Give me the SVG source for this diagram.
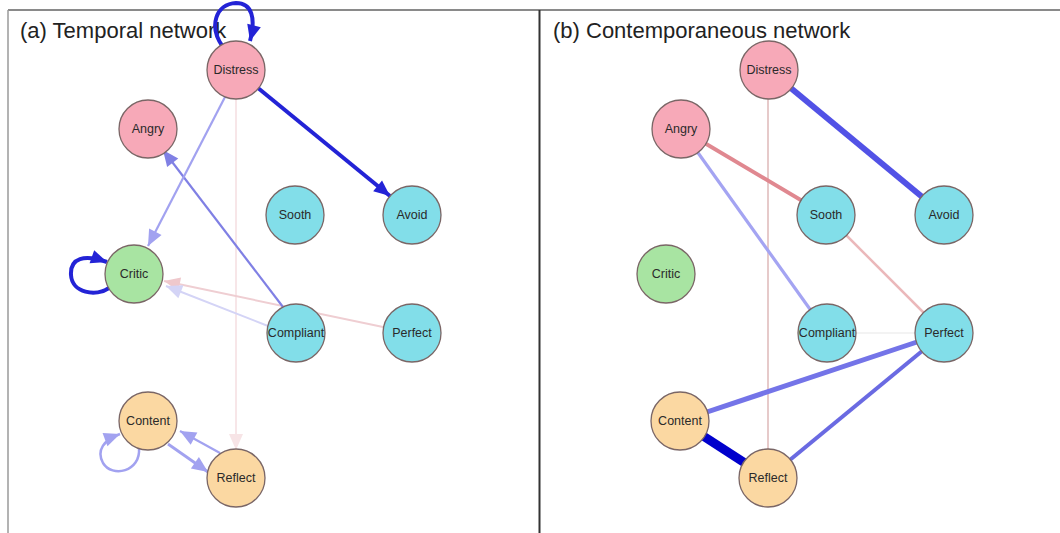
<svg xmlns="http://www.w3.org/2000/svg" width="1060" height="533" viewBox="0 0 1060 533">
<style>
.node circle{stroke:#7a6666;stroke-width:1.3}
.node text{font-family:"Liberation Sans",Arial,sans-serif;font-size:12.5px;fill:#2a2a2a;text-anchor:middle;dominant-baseline:central}
.pink{fill:#F7A9B8}.cyan{fill:#82DEE9}.green{fill:#A8E4A2}.orange{fill:#FBD8A2}
.title{font-family:"Liberation Sans",Arial,sans-serif;font-size:22px;fill:#222}
.e{fill:none;stroke-linecap:butt}
</style>
<defs>
<marker id="aDark" markerUnits="userSpaceOnUse" markerWidth="20" markerHeight="20" viewBox="0 0 20 20" refX="18" refY="10" orient="auto"><path d="M2,3 L18,10 L2,17 Z" fill="#2323D6"/></marker>
<marker id="aLight" markerUnits="userSpaceOnUse" markerWidth="20" markerHeight="20" viewBox="0 0 20 20" refX="18" refY="10" orient="auto"><path d="M2,3 L18,10 L2,17 Z" fill="#A2A2F0"/></marker>
<marker id="aMid" markerUnits="userSpaceOnUse" markerWidth="20" markerHeight="20" viewBox="0 0 20 20" refX="18" refY="10" orient="auto"><path d="M2,3 L18,10 L2,17 Z" fill="#8080E4"/></marker>
<marker id="aPink" markerUnits="userSpaceOnUse" markerWidth="20" markerHeight="20" viewBox="0 0 20 20" refX="18" refY="10" orient="auto"><path d="M2,3 L18,10 L2,17 Z" fill="#EFC8CC"/></marker>
<marker id="aFaintBlue" markerUnits="userSpaceOnUse" markerWidth="20" markerHeight="20" viewBox="0 0 20 20" refX="18" refY="10" orient="auto"><path d="M2,3 L18,10 L2,17 Z" fill="#D4D4F6"/></marker>
<marker id="aFaintPink" markerUnits="userSpaceOnUse" markerWidth="20" markerHeight="20" viewBox="0 0 20 20" refX="18" refY="10" orient="auto"><path d="M2,3 L18,10 L2,17 Z" fill="#F7E4E6"/></marker>
</defs>
<rect width="1060" height="533" fill="#ffffff"/>
<g id="frame">
<line x1="8" y1="10" x2="1060" y2="10" stroke="#8a8a8a" stroke-width="2"/>
<line x1="8" y1="10" x2="8" y2="533" stroke="#9a9a9a" stroke-width="1.5"/>
<line x1="539.5" y1="10" x2="539.5" y2="533" stroke="#333" stroke-width="2"/>
</g>
<text class="title" x="20" y="38">(a) Temporal network</text>
<text class="title" x="553" y="38">(b) Contemporaneous network</text>
<g id="connectors">
<!-- temporal -->
<line class="e" x1="236" y1="99" x2="236" y2="450" stroke="#F7E4E6" stroke-width="1.8" marker-end="url(#aFaintPink)"/>
<line class="e" x1="383" y1="327" x2="164" y2="281" stroke="#EFCED2" stroke-width="2" marker-end="url(#aPink)"/>
<line class="e" x1="268" y1="326" x2="166" y2="286" stroke="#D4D4F6" stroke-width="2" marker-end="url(#aFaintBlue)"/>
<line class="e" x1="283" y1="307" x2="163" y2="150" stroke="#8080E4" stroke-width="2.2" marker-end="url(#aMid)"/>
<line class="e" x1="225" y1="97" x2="148" y2="246" stroke="#A2A2F0" stroke-width="2.2" marker-end="url(#aLight)"/>
<line class="e" x1="258" y1="88" x2="390" y2="196" stroke="#2323D6" stroke-width="4" marker-end="url(#aDark)"/>
<path class="e" d="M223,47 C208,26 216,4 236,3 C252,3 256,18 250,41" stroke="#2323D6" stroke-width="4" marker-end="url(#aDark)"/>
<path class="e" d="M109,288 C96,297 72,293 71,275 C70,258 84,254 107,262" stroke="#2323D6" stroke-width="4" marker-end="url(#aDark)"/>
<path class="e" d="M139,448 C141,472 112,478 103,463 C96,450 104,440 120,434" stroke="#A2A2F0" stroke-width="2.5" marker-end="url(#aLight)"/>
<line class="e" x1="168" y1="444" x2="208" y2="472" stroke="#A2A2F0" stroke-width="2.8" marker-end="url(#aLight)"/>
<line class="e" x1="220" y1="453" x2="180" y2="431" stroke="#A2A2F0" stroke-width="2.2" marker-end="url(#aLight)"/>
<!-- contemporaneous -->
<line class="e" x1="768" y1="70" x2="768" y2="478" stroke="#E6CACA" stroke-width="2"/>
<line class="e" x1="827" y1="333" x2="944" y2="333" stroke="#E8E8E8" stroke-width="1.2"/>
<line class="e" x1="826" y1="215" x2="944" y2="333" stroke="#EBB8BA" stroke-width="2.5"/>
<line class="e" x1="681" y1="129" x2="826" y2="215" stroke="#E08890" stroke-width="4"/>
<line class="e" x1="681" y1="129" x2="827" y2="333" stroke="#A4A4F2" stroke-width="3.2"/>
<line class="e" x1="769" y1="70" x2="944" y2="215" stroke="#5252E6" stroke-width="6"/>
<line class="e" x1="944" y1="333" x2="680" y2="421" stroke="#7474E8" stroke-width="5"/>
<line class="e" x1="944" y1="333" x2="768" y2="478" stroke="#6A6AE2" stroke-width="4"/>
<line class="e" x1="680" y1="421" x2="768" y2="478" stroke="#0000CC" stroke-width="9"/>
</g>
<!-- temporal nodes -->
<g id="t-distress" class="node"><circle class="pink" cx="236" cy="70" r="29"/><text x="236" y="70">Distress</text></g>
<g id="t-angry" class="node"><circle class="pink" cx="148" cy="129" r="29"/><text x="148" y="129">Angry</text></g>
<g id="t-sooth" class="node"><circle class="cyan" cx="295" cy="215" r="29"/><text x="295" y="215">Sooth</text></g>
<g id="t-avoid" class="node"><circle class="cyan" cx="412" cy="215" r="29"/><text x="412" y="215">Avoid</text></g>
<g id="t-critic" class="node"><circle class="green" cx="134" cy="274" r="29"/><text x="134" y="274">Critic</text></g>
<g id="t-compliant" class="node"><circle class="cyan" cx="296" cy="333" r="29"/><text x="296" y="333">Compliant</text></g>
<g id="t-perfect" class="node"><circle class="cyan" cx="412" cy="333" r="29"/><text x="412" y="333">Perfect</text></g>
<g id="t-content" class="node"><circle class="orange" cx="148" cy="421" r="29"/><text x="148" y="421">Content</text></g>
<g id="t-reflect" class="node"><circle class="orange" cx="236" cy="478" r="29"/><text x="236" y="478">Reflect</text></g>
<!-- contemporaneous nodes -->
<g id="c-distress" class="node"><circle class="pink" cx="769" cy="70" r="29"/><text x="769" y="70">Distress</text></g>
<g id="c-angry" class="node"><circle class="pink" cx="681" cy="129" r="29"/><text x="681" y="129">Angry</text></g>
<g id="c-sooth" class="node"><circle class="cyan" cx="826" cy="215" r="29"/><text x="826" y="215">Sooth</text></g>
<g id="c-avoid" class="node"><circle class="cyan" cx="944" cy="215" r="29"/><text x="944" y="215">Avoid</text></g>
<g id="c-critic" class="node"><circle class="green" cx="666" cy="274" r="29"/><text x="666" y="274">Critic</text></g>
<g id="c-compliant" class="node"><circle class="cyan" cx="827" cy="333" r="29"/><text x="827" y="333">Compliant</text></g>
<g id="c-perfect" class="node"><circle class="cyan" cx="944" cy="333" r="29"/><text x="944" y="333">Perfect</text></g>
<g id="c-content" class="node"><circle class="orange" cx="680" cy="421" r="29"/><text x="680" y="421">Content</text></g>
<g id="c-reflect" class="node"><circle class="orange" cx="768" cy="478" r="29"/><text x="768" y="478">Reflect</text></g>
</svg>
